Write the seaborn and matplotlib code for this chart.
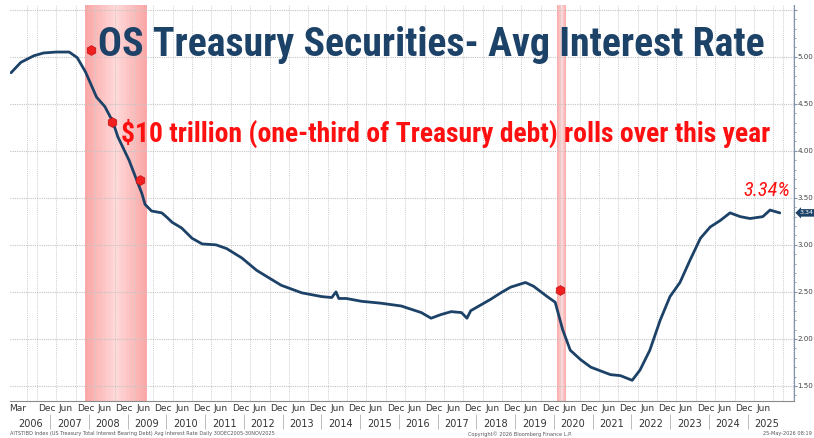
import matplotlib
matplotlib.use("Agg")
import matplotlib.pyplot as plt
import matplotlib.dates as mdates
import matplotlib.ticker as mticker
import matplotlib.transforms as mtrans
import matplotlib.font_manager as fm
import seaborn as sns
import pandas as pd
import numpy as np

# ---------------- data ----------------
dates = ["2005-12-30", "2006-04-01", "2006-08-01", "2006-11-01", "2007-03-01", "2007-07-01",
         "2007-09-15", "2007-12-01", "2008-03-15", "2008-06-01", "2008-08-15", "2008-10-01",
         "2009-01-15", "2009-05-15", "2009-06-15", "2009-08-15", "2009-11-20", "2010-01-10",
         "2010-02-25", "2010-05-25", "2010-09-01", "2010-12-05", "2011-04-15", "2011-07-25",
         "2011-12-15", "2012-05-01", "2012-08-10", "2012-12-20", "2013-07-01", "2014-01-05",
         "2014-04-10", "2014-05-20", "2014-06-15", "2014-08-25", "2015-01-15", "2015-07-15",
         "2016-01-25", "2016-08-01", "2016-11-01", "2017-02-05", "2017-05-10", "2017-08-15",
         "2017-10-05", "2017-11-10", "2018-05-15", "2018-08-20", "2018-11-20", "2019-04-10",
         "2019-06-25", "2019-11-01", "2020-01-15", "2020-03-25", "2020-06-05", "2020-09-10",
         "2020-12-15", "2021-04-10", "2021-06-20", "2021-09-20", "2022-01-10", "2022-03-25",
         "2022-06-25", "2022-10-01", "2023-01-01", "2023-04-05", "2023-07-10", "2023-10-15",
         "2024-01-15", "2024-04-20", "2024-07-20", "2024-10-25", "2025-01-25", "2025-05-25",
         "2025-08-01", "2025-11-01"]
rates = [4.83, 4.94, 5.01, 5.04, 5.05, 5.05,
         4.99, 4.84, 4.57, 4.47, 4.31, 4.15,
         3.90, 3.55, 3.43, 3.36, 3.34, 3.29,
         3.24, 3.18, 3.07, 3.01, 3.00, 2.96,
         2.86, 2.73, 2.66, 2.57, 2.49, 2.45,
         2.44, 2.50, 2.43, 2.43, 2.40, 2.38,
         2.35, 2.28, 2.22, 2.26, 2.29, 2.28,
         2.22, 2.30, 2.42, 2.49, 2.55, 2.60,
         2.56, 2.45, 2.39, 2.10, 1.88, 1.78,
         1.70, 1.65, 1.62, 1.61, 1.56, 1.67,
         1.88, 2.20, 2.45, 2.60, 2.84, 3.07,
         3.19, 3.26, 3.34, 3.30, 3.28, 3.30,
         3.37, 3.34]

recession_starts = ["2007-12-01", "2020-02-01"]
recession_ends = ["2009-06-30", "2020-04-30"]

rec_pin_dates = ["2008-01-20", "2008-08-10", "2009-05-01", "2020-02-25"]
rec_pin_values = [5.07, 4.31, 3.69, 2.52]

title_text = "OS Treasury Securities- Avg Interest Rate"
note_text = "$10 trillion (one-third of Treasury debt) rolls over this year"
last_value = 3.34
last_label = "3.34%"

y_ticks = [1.5, 2.0, 2.5, 3.0, 3.5, 4.0, 4.5, 5.0, 5.5]
month_label_dates = ["2006-03-01"] + [f"{y}-{m:02d}-01" for y in range(2006, 2026) for m in (6, 12)
                                      if not (y == 2006 and m == 6) and not (y == 2025 and m == 12)]
year_labels = list(range(2006, 2026))

foot_left = "AITSTIBD Index (US Treasury Total Interest Bearing Debt) Avg Interest Rate Daily 30DEC2005-30NOV2025"
foot_mid = "Copyright\u00a9 2026 Bloomberg Finance L.P."
foot_right = "25-May-2026 08:19"

# ---------------- style ----------------
sns.set_theme(style="white")
plt.rcParams["font.family"] = ["DejaVu Sans"]

avail = {f.name for f in fm.fontManager.ttflist}
narrow = [f for f in ["Liberation Sans Narrow", "DejaVu Sans Condensed", "Roboto Condensed",
                      "Open Sans Condensed"] if f in avail]
narrow_family = narrow + ["DejaVu Sans"]

NAVY = "#1d4268"
RED = "#ff1010"

fig = plt.figure(figsize=(8.14, 4.38), dpi=100)
ax = fig.add_axes([10 / 814, 37 / 438, 784 / 814, 396 / 438])

df = pd.DataFrame({"date": pd.to_datetime(dates), "rate": rates})

# recession shading with soft gradient
for s, e in zip(recession_starts, recession_ends):
    s_num = mdates.date2num(pd.Timestamp(s))
    e_num = mdates.date2num(pd.Timestamp(e))
    n = 24
    edges = np.linspace(s_num, e_num, n + 1)
    for i in range(n):
        c = abs((i + 0.5) / n - 0.5) * 2  # 0 centre, 1 edge
        light = np.array([1.0, 0.85, 0.85])
        dark = np.array([0.98, 0.65, 0.65])
        col = light * (1 - c) + dark * c
        ax.axvspan(edges[i], edges[i + 1], color=col, lw=0, zorder=0.5)

sns.lineplot(data=df, x="date", y="rate", ax=ax, color=NAVY, linewidth=2.0, zorder=3)

# recession pins
ax.scatter(pd.to_datetime(rec_pin_dates), rec_pin_values, marker="h", s=50, color="#f02020",
           edgecolor="#c01010", linewidth=0.5, zorder=4)

ax.set_xlim(pd.Timestamp("2005-12-20"), pd.Timestamp("2026-03-15"))
ax.set_ylim(1.34, 5.55)
ax.set_xlabel("")
ax.set_ylabel("")

# axes cosmetics
for sp in ["left", "top"]:
    ax.spines[sp].set_visible(False)
ax.spines["bottom"].set_color("#8a8a8a")
ax.spines["right"].set_color("#7f93ad")
ax.spines["bottom"].set_linewidth(0.8)
ax.spines["right"].set_linewidth(0.8)

ax.yaxis.tick_right()
ax.yaxis.set_major_locator(mticker.FixedLocator(y_ticks))
ax.yaxis.set_minor_locator(mticker.MultipleLocator(0.1))
ax.yaxis.set_major_formatter(mticker.FuncFormatter(lambda v, p: "" if v > 5.2 else f"{v:.2f}"))
ax.tick_params(axis="y", which="major", direction="out", length=2, width=0.8, color="#7f93ad",
               labelsize=5.1, labelcolor="#444444", pad=0.4)
ax.tick_params(axis="y", which="minor", direction="out", length=1.2, width=0.6, color="#7f93ad")

ax.xaxis.set_major_locator(mticker.FixedLocator(mdates.date2num(pd.to_datetime(month_label_dates))))
ax.xaxis.set_major_formatter(mticker.FixedFormatter([pd.Timestamp(d).strftime("%b") for d in month_label_dates]))
ax.xaxis.set_minor_locator(mdates.MonthLocator(bymonth=[3, 6, 9, 12]))
ax.tick_params(axis="x", which="major", length=0, labelsize=6.5, labelcolor="#333333", pad=2.5)
ax.tick_params(axis="x", which="minor", length=0)

ax.grid(True, axis="x", which="minor", color="#cfcfcf", linestyle=(0, (1, 1)), linewidth=0.7, zorder=1)
ax.grid(True, axis="y", which="major", color="#c4c4c4", linestyle=(0, (1, 1)), linewidth=0.8, zorder=1)
ax.set_axisbelow(True)

# year labels and separators
sec = ax.secondary_xaxis(-0.034)
sec.spines["bottom"].set_visible(False)
sec.xaxis.set_major_locator(mticker.FixedLocator(
    [mdates.date2num(pd.Timestamp(f"{y}-07-01")) for y in year_labels]))
sec.xaxis.set_major_formatter(mticker.FixedFormatter([str(y) for y in year_labels]))
sec.xaxis.set_minor_locator(mticker.FixedLocator(
    [mdates.date2num(pd.Timestamp(f"{y}-01-01")) for y in year_labels[1:]]))
sec.tick_params(axis="x", which="major", length=0, labelsize=7, labelcolor="#333333", pad=3)
sec.tick_params(axis="x", which="minor", length=11, width=0.7, color="#bbbbbb", direction="out")

# last value tag on right axis
tr = mtrans.blended_transform_factory(ax.transAxes, ax.transData)
ax.text(1.007, last_value, f"{last_value:.2f}", transform=tr, ha="left", va="center", fontsize=4.6,
        color="white", bbox=dict(boxstyle="larrow,pad=0.2", fc=NAVY, ec="none"), zorder=6, clip_on=False)

# annotations
t_title = fig.text(431 / 814, 1 - 45 / 438, title_text, ha="center", va="center", color=NAVY,
                   fontsize=30, fontweight="bold", family=narrow_family)
t_note = fig.text(446 / 814, 1 - 133 / 438, note_text, ha="center", va="center", color=RED,
                  fontsize=20, fontweight="bold", family=narrow_family)
t_last = fig.text(767 / 814, 1 - 191 / 438, last_label, ha="center", va="center", color=RED,
                  fontsize=15, fontstyle="italic", family=narrow_family)

fig.text(10 / 814, 1 - 434 / 438, foot_left, ha="left", va="center", fontsize=3.6, color="#555555")
fig.text(520 / 814, 1 - 434 / 438, foot_mid, ha="center", va="center", fontsize=3.6, color="#555555")
fig.text(812 / 814, 1 - 434 / 438, foot_right, ha="right", va="center", fontsize=3.6, color="#555555")

# fit annotation widths to the reference
fig.canvas.draw()
r = fig.canvas.get_renderer()
for t, w in [(t_title, 667), (t_note, 648), (t_last, 47)]:
    bw = t.get_window_extent(r).width
    t.set_fontsize(t.get_fontsize() * w / bw)

fig.savefig("out.png", dpi=100)
